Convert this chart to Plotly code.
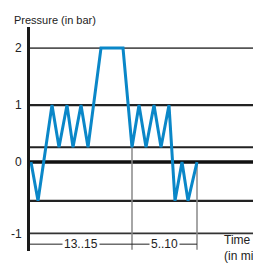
import plotly.graph_objects as go

# Schematic pressure curve (time in arbitrary units, pressure in axis units)
time = [1, 8, 22, 29, 37, 43, 51, 58, 71, 93, 102, 109, 116, 124, 131, 139, 145, 152, 158, 167]
pressure = [0, -0.68, 1, 0.26, 1, 0.26, 1, 0.26, 2, 2, 0.26, 1, 0.26, 1, 0.26, 1, -0.68, 0, -0.68, 0]

# Reference levels (horizontal lines)
levels = [2, 1, 0.26, 0, -0.68, -1.25]
level_widths = [1.6, 2.2, 2.2, 3.5, 2.2, 1.6]
level_colors = ["#555555", "#222222", "#222222", "#111111", "#222222", "#333333"]

# Y tick labels
tick_vals = [2, 1, 0, -1.25]
tick_text = ["2", "1", "0", "-1"]

# Phase markers
phase_bounds = [0, 102, 167]
phase_labels = ["13..15", "5..10"]
phase_y = -1.44

FONT = "Liberation Sans Narrow, Arial Narrow, Liberation Sans, Arial, sans-serif"

fig = go.Figure()
fig.add_trace(go.Scatter(x=time, y=pressure, mode="lines",
                         line=dict(color="#0A87C8", width=3), hoverinfo="skip"))

shapes = []
for lv, w, c in zip(levels, level_widths, level_colors):
    shapes.append(dict(type="line", xref="paper", yref="y", x0=0, x1=1, y0=lv, y1=lv,
                       line=dict(color=c, width=w), layer="below"))
# vertical phase markers
shapes.append(dict(type="line", xref="x", yref="y", x0=phase_bounds[1], x1=phase_bounds[1],
                   y0=0.26, y1=-1.54, line=dict(color="#888888", width=1.5), layer="below"))
shapes.append(dict(type="line", xref="x", yref="y", x0=phase_bounds[2], x1=phase_bounds[2],
                   y0=0, y1=-1.54, line=dict(color="#888888", width=1.5), layer="below"))
# duration line
shapes.append(dict(type="line", xref="x", yref="y", x0=phase_bounds[0], x1=phase_bounds[2],
                   y0=phase_y, y1=phase_y, line=dict(color="#222222", width=1), layer="below"))

annotations = []
for i, lab in enumerate(phase_labels):
    xc = (phase_bounds[i] + phase_bounds[i + 1]) / 2
    annotations.append(dict(x=xc, y=phase_y, xref="x", yref="y", text=lab, showarrow=False,
                            bgcolor="white", borderpad=1,
                            font=dict(family=FONT, size=12, color="#222222")))
annotations.append(dict(x=-0.08, y=1.031, xref="paper", yref="paper", text="Pressure (in bar)",
                        showarrow=False, xanchor="left", yanchor="middle",
                        font=dict(family=FONT, size=11, color="#222222")))
annotations.append(dict(x=0.862, y=0.015, xref="paper", yref="paper", text="Time<br>(in min)",
                        showarrow=False, xanchor="left", yanchor="middle", align="left",
                        font=dict(family=FONT, size=12, color="#222222")))

fig.update_layout(
    width=253, height=264,
    margin=dict(l=30, r=0, t=27, b=13),
    paper_bgcolor="white", plot_bgcolor="white",
    showlegend=False,
    shapes=shapes, annotations=annotations,
    xaxis=dict(range=[0, 223], showgrid=False, zeroline=False, showticklabels=False,
               ticks="", showline=False, automargin=False),
    yaxis=dict(range=[-1.56, 2.37], showgrid=False, zeroline=False,
               tickvals=tick_vals, ticktext=tick_text, ticks="",
               showline=True, linewidth=3, linecolor="#1a1a1a", automargin=False,
               tickfont=dict(family=FONT, size=12, color="#222222"), ticklabelstandoff=3),
)

fig.write_html("out.html", config={"displayModeBar": False},
               post_script="document.body.style.margin='0px';document.body.style.overflow='hidden';")
